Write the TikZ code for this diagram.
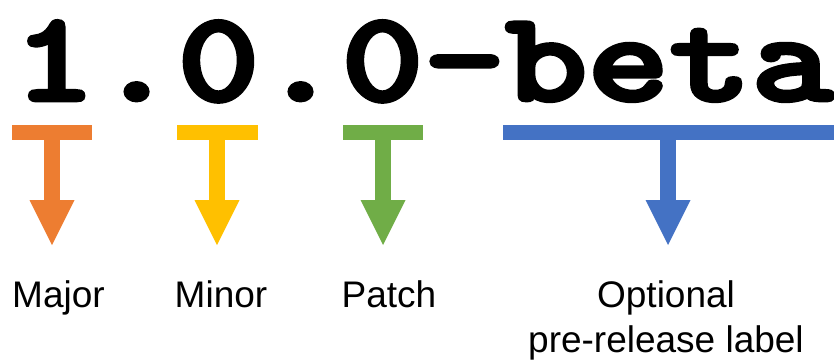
\documentclass[tikz,border=0pt]{standalone}
\usepackage{fontspec}
\setmainfont{Liberation Sans}
\newfontfamily\vermono{lmmonolt10-bold}[Extension=.otf, FakeBold=3]
\definecolor{cmajor}{HTML}{ED7D31}
\definecolor{cminor}{HTML}{FFC000}
\definecolor{cpatch}{HTML}{70AD47}
\definecolor{cpre}{HTML}{4472C4}
\newcommand\tarrow[4]{%
  \fill[#1] (#2,125) rectangle (#3,140);
  \fill[#1] ({#4-8},139) rectangle ({#4+8},201);
  \fill[#1] ({#4-22.5},200) -- ({#4+22.5},200) -- (#4,245) -- cycle;
}
\begin{document}
\begin{tikzpicture}[x=1pt,y=-1pt,
  lab/.style={inner sep=0pt, anchor=base, font=\fontsize{37}{42}\selectfont},
  vers/.style={inner sep=0pt, anchor=base, font=\vermono\fontsize{128}{128}\selectfont}]
\useasboundingbox (0,0) rectangle (834,360);
\node[vers] (ver) at (423.5,100.5) {\scalebox{1.22}[1]{1.0.0-beta}};
\tarrow{cmajor}{12}{92}{52}
\tarrow{cminor}{177}{258}{217}
\tarrow{cpatch}{343}{423}{383}
\tarrow{cpre}{503}{834}{668}
\node[lab] (major) at (58.5,307) {Major};
\node[lab] (minor) at (221,307) {Minor};
\node[lab] (patch) at (389,307) {Patch};
\node[lab] (opt) at (666,307) {Optional};
\node[lab] (pre) at (666,352) {pre-release label};
\end{tikzpicture}
\end{document}
